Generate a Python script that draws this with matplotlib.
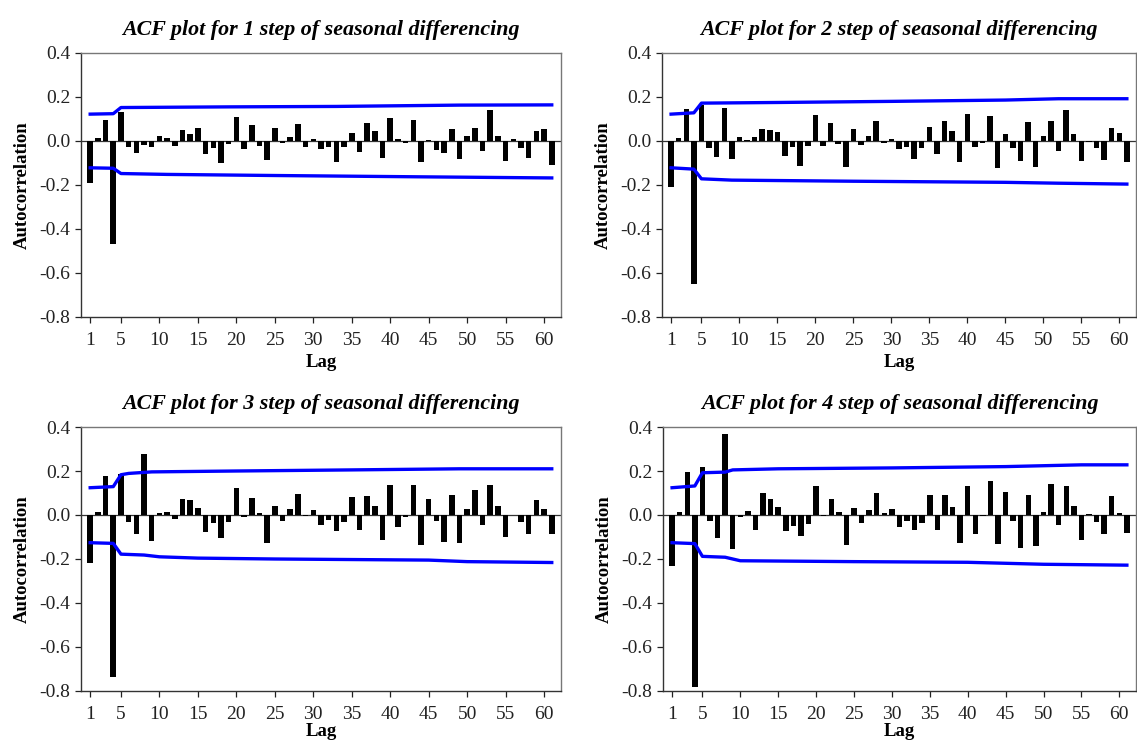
import numpy as np
import matplotlib.pyplot as plt


# =============================================================================
# Autocorrelations for lags 1..61
# =============================================================================

lags = np.arange(1, 62)

acf_step_1 = [
    -0.190, 0.012, 0.095, -0.470, 0.130, -0.026, -0.056, -0.018, -0.026, 0.023,
    0.014, -0.023, 0.048, 0.033, 0.060, -0.060, -0.033, -0.100, -0.014, 0.109,
    -0.036, 0.071, -0.023, -0.088, 0.060, -0.008, 0.018, 0.076, -0.026, 0.009,
    -0.036, -0.026, -0.094, -0.026, 0.038, -0.050, 0.082, 0.044, -0.079, 0.106,
    0.009, -0.008, 0.095, -0.094, 0.005, -0.041, -0.056, 0.053, -0.083, 0.023,
    0.058, -0.045, 0.142, 0.024, -0.089, 0.009, -0.033, -0.079, 0.044, 0.053,
    -0.108,
]

acf_step_2 = [
    -0.208, 0.014, 0.145, -0.652, 0.162, -0.032, -0.074, 0.152, -0.083, 0.018,
    0.006, 0.018, 0.056, 0.052, 0.042, -0.070, -0.027, -0.112, -0.023, 0.118,
    -0.023, 0.080, -0.014, -0.118, 0.053, -0.018, 0.024, 0.091, -0.008, 0.009,
    -0.036, -0.026, -0.083, -0.032, 0.062, -0.059, 0.091, 0.044, -0.097, 0.123,
    -0.027, -0.008, 0.114, -0.121, 0.033, -0.032, -0.092, 0.086, -0.117, 0.023,
    0.091, -0.045, 0.142, 0.033, -0.092, -0.003, -0.032, -0.088, 0.058, 0.038,
    -0.097,
]

acf_step_3 = [
    -0.220, 0.015, 0.176, -0.735, 0.188, -0.030, -0.088, 0.276, -0.120, 0.011,
    0.015, -0.017, 0.073, 0.068, 0.033, -0.077, -0.036, -0.105, -0.032, 0.124,
    -0.008, 0.077, 0.008, -0.129, 0.039, -0.026, 0.026, 0.095, -0.003, 0.021,
    -0.044, -0.024, -0.073, -0.030, 0.083, -0.067, 0.088, 0.039, -0.115, 0.135,
    -0.053, -0.008, 0.135, -0.135, 0.074, -0.026, -0.121, 0.092, -0.129, 0.027,
    0.115, -0.044, 0.135, 0.039, -0.102, 0.002, -0.030, -0.088, 0.070, 0.027,
    -0.088,
]

acf_step_4 = [
    -0.232, 0.015, 0.195, -0.780, 0.218, -0.026, -0.105, 0.370, -0.153, -0.008,
    0.020, -0.068, 0.100, 0.071, 0.038, -0.073, -0.050, -0.097, -0.039, 0.132,
    -0.003, 0.071, 0.015, -0.135, 0.033, -0.035, 0.024, 0.100, 0.008, 0.026,
    -0.055, -0.027, -0.067, -0.035, 0.091, -0.068, 0.091, 0.035, -0.126, 0.133,
    -0.086, -0.003, 0.155, -0.130, 0.106, -0.026, -0.148, 0.092, -0.139, 0.015,
    0.139, -0.045, 0.130, 0.039, -0.112, 0.006, -0.030, -0.086, 0.088, 0.011,
    -0.082,
]


# =============================================================================
# Confidence limits (breakpoints along the lag axis)
# =============================================================================

upper_lags_1 = [1, 4, 5, 19, 33, 49, 61]
upper_1 = [0.122, 0.124, 0.152, 0.155, 0.157, 0.163, 0.164]
lower_lags_1 = [1, 4, 5, 11, 25, 44, 61]
lower_1 = [-0.122, -0.124, -0.148, -0.152, -0.157, -0.163, -0.168]

upper_lags_2 = [1, 4, 5, 15, 30, 45, 52, 61]
upper_2 = [0.122, 0.128, 0.172, 0.175, 0.180, 0.186, 0.192, 0.192]
lower_lags_2 = [1, 4, 5, 9, 25, 45, 52, 61]
lower_2 = [-0.122, -0.128, -0.172, -0.178, -0.183, -0.188, -0.192, -0.196]

upper_lags_3 = [1, 4, 5, 6, 9, 20, 35, 49, 61]
upper_3 = [0.124, 0.129, 0.183, 0.189, 0.196, 0.200, 0.205, 0.210, 0.210]
lower_lags_3 = [1, 4, 5, 8, 10, 15, 25, 45, 50, 61]
lower_3 = [-0.126, -0.129, -0.178, -0.182, -0.190, -0.196, -0.200, -0.205,
           -0.212, -0.216]

upper_lags_4 = [1, 4, 5, 8, 9, 15, 30, 45, 55, 61]
upper_4 = [0.124, 0.132, 0.192, 0.195, 0.205, 0.210, 0.214, 0.220, 0.228,
           0.228]
lower_lags_4 = [1, 4, 5, 8, 10, 25, 40, 50, 61]
lower_4 = [-0.126, -0.130, -0.188, -0.192, -0.208, -0.212, -0.215, -0.224,
           -0.228]

titles = [
    "ACF plot for 1 step of seasonal differencing",
    "ACF plot for 2 step of seasonal differencing",
    "ACF plot for 3 step of seasonal differencing",
    "ACF plot for 4 step of seasonal differencing",
]

panels = [
    (acf_step_1, upper_lags_1, upper_1, lower_lags_1, lower_1),
    (acf_step_2, upper_lags_2, upper_2, lower_lags_2, lower_2),
    (acf_step_3, upper_lags_3, upper_3, lower_lags_3, lower_3),
    (acf_step_4, upper_lags_4, upper_4, lower_lags_4, lower_4),
]

x_ticks = [1, 5, 10, 15, 20, 25, 30, 35, 40, 45, 50, 55, 60]
y_ticks = [0.4, 0.2, 0.0, -0.2, -0.4, -0.6, -0.8]


# =============================================================================
# Visualization
# =============================================================================

plt.rcParams["font.family"] = ["Liberation Serif", "DejaVu Serif"]
plt.rcParams["axes.unicode_minus"] = False

fig = plt.figure(figsize=(11.37, 7.43), dpi=100)

axes_rects = [
    [0.0712, 0.5734, 0.4222, 0.3553],
    [0.5822, 0.5734, 0.4169, 0.3553],
    [0.0712, 0.0700, 0.4222, 0.3553],
    [0.5831, 0.0700, 0.4160, 0.3553],
]

# bottom row keeps "Lag" a little closer to the ticks
lag_label_pads = [4, 4, 0.5, 0.5]

for rect, title, lag_pad, (acf, u_lags, upper, l_lags, lower) in zip(
    axes_rects, titles, lag_label_pads, panels
):
    ax = fig.add_axes(rect)

    ax.bar(lags, acf, width=0.72, color="black", zorder=2)
    ax.axhline(0.0, color="#333333", linewidth=0.9, zorder=1)

    ax.plot(u_lags, upper, color="#0000ff", linewidth=2.4, zorder=3)
    ax.plot(l_lags, lower, color="#0000ff", linewidth=2.4, zorder=3)

    ax.set_xlim(-0.2, 62.2)
    ax.set_ylim(-0.8, 0.4)

    ax.set_xticks(x_ticks)
    ax.set_yticks(y_ticks)
    ax.set_yticklabels([f"{v:.1f}" for v in y_ticks])

    ax.tick_params(direction="out", length=4.5, width=0.9, labelsize=14,
                   colors="#222222")
    ax.tick_params(axis="x", pad=6)
    ax.tick_params(axis="y", pad=3)

    for side in ["left", "bottom"]:
        ax.spines[side].set_color("#333333")
        ax.spines[side].set_linewidth(1.0)
    for side in ["top", "right"]:
        ax.spines[side].set_color("#777777")
        ax.spines[side].set_linewidth(1.0)

    ax.set_xlabel("Lag", fontsize=13.5, fontweight="bold", labelpad=lag_pad)
    ax.set_ylabel("Autocorrelation", fontsize=13.5, fontweight="bold",
                  labelpad=6)
    ax.set_title(title, fontsize=15.8, fontweight="bold", style="italic",
                 pad=13)

fig.savefig("out.png", dpi=100)
